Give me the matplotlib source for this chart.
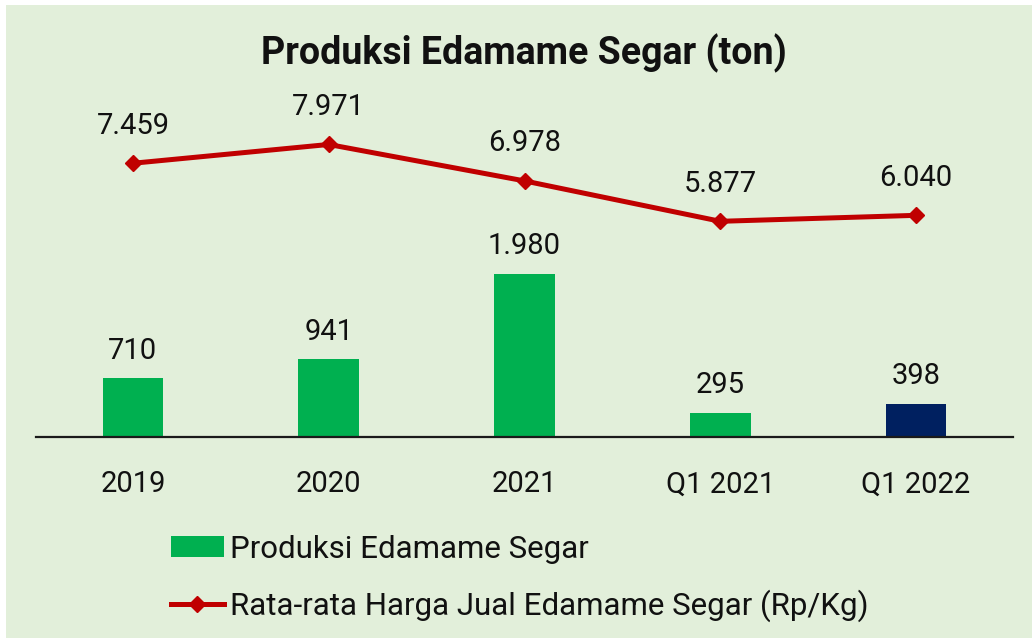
import matplotlib
matplotlib.use("Agg")
import matplotlib.pyplot as plt
from matplotlib.patches import Rectangle
from matplotlib.lines import Line2D
from matplotlib.patches import Patch

categories = ["2019", "2020", "2021", "Q1 2021", "Q1 2022"]
produksi = [710, 941, 1980, 295, 398]
harga = [7459, 7971, 6978, 5877, 6040]
bar_colors = ["#00b050", "#00b050", "#00b050", "#00b050", "#002060"]
title = "Produksi Edamame Segar (ton)"
legend_labels = ["Produksi Edamame Segar", "Rata-rata Harga Jual Edamame Segar (Rp/Kg)"]

def fmt(v):
    return f"{v:,}".replace(",", ".")

FONT = "Roboto"
BG = "#e2efda"
W, H = 1032, 638
fig = plt.figure(figsize=(W / 100, H / 100), dpi=100)
fig.patch.set_facecolor("white")
fig.patches.append(Rectangle((6 / W, 0), 1 - 6 / W, 1 - 5 / H, transform=fig.transFigure,
                             facecolor=BG, edgecolor="none", zorder=-10))

ax_left, ax_right = 36 / W, 1013 / W
ax_bot, ax_top = (H - 437) / H, (H - 60) / H
ax = fig.add_axes([ax_left, ax_bot, ax_right - ax_left, ax_top - ax_bot])
ax.set_facecolor("none")
x = list(range(len(categories)))
ax.bar(x, produksi, width=0.31, color=bar_colors, zorder=2)
ax.set_xlim(-0.495, 4.495)
ax.set_ylim(0, 377 / 0.0825)
for s in ["top", "right", "left"]:
    ax.spines[s].set_visible(False)
ax.spines["bottom"].set_linewidth(1.6)
ax.spines["bottom"].set_color("#1a1a1a")
ax.set_yticks([])
ax.set_xticks(x)
ax.set_xticklabels(categories, fontfamily=FONT, fontsize=21, color="#111111")
ax.tick_params(axis="x", length=0, pad=24)
for xi, v in zip(x, produksi):
    ax.annotate(fmt(v), (xi, v), xytext=(0, 20), textcoords="offset points",
                ha="center", va="center", fontfamily=FONT, fontsize=21, color="#111111")

ax2 = ax.twinx()
ax2.set_ylim(0, 377 / 0.0367)
ax2.plot(x, harga, color="#c00000", lw=3.6, marker="D", markersize=8, zorder=3)
ax2.axis("off")
for xi, v in zip(x, harga):
    ax2.annotate(fmt(v), (xi, v), xytext=(0, 27), textcoords="offset points",
                 ha="center", va="center", fontfamily=FONT, fontsize=21, color="#111111")

fig.text(524 / W, 1 - 53 / H, title, ha="center", va="center", fontfamily=FONT,
         fontweight="bold", fontsize=27, color="#111111")

handles = [Patch(facecolor="#00b050", edgecolor="none"),
           Line2D([], [], color="#c00000", lw=3.6, marker="D", markersize=8)]
leg = fig.legend(handles, legend_labels, loc="upper left", bbox_to_anchor=(158 / W, 1 - 522 / H),
                 frameon=False, prop={"family": FONT, "size": 22.5}, handlelength=1.7,
                 handleheight=0.65, handletextpad=0.2, labelspacing=0.82, borderaxespad=0)
for t in leg.get_texts():
    t.set_color("#111111")

fig.savefig("out.png", dpi=100, facecolor=fig.get_facecolor())
